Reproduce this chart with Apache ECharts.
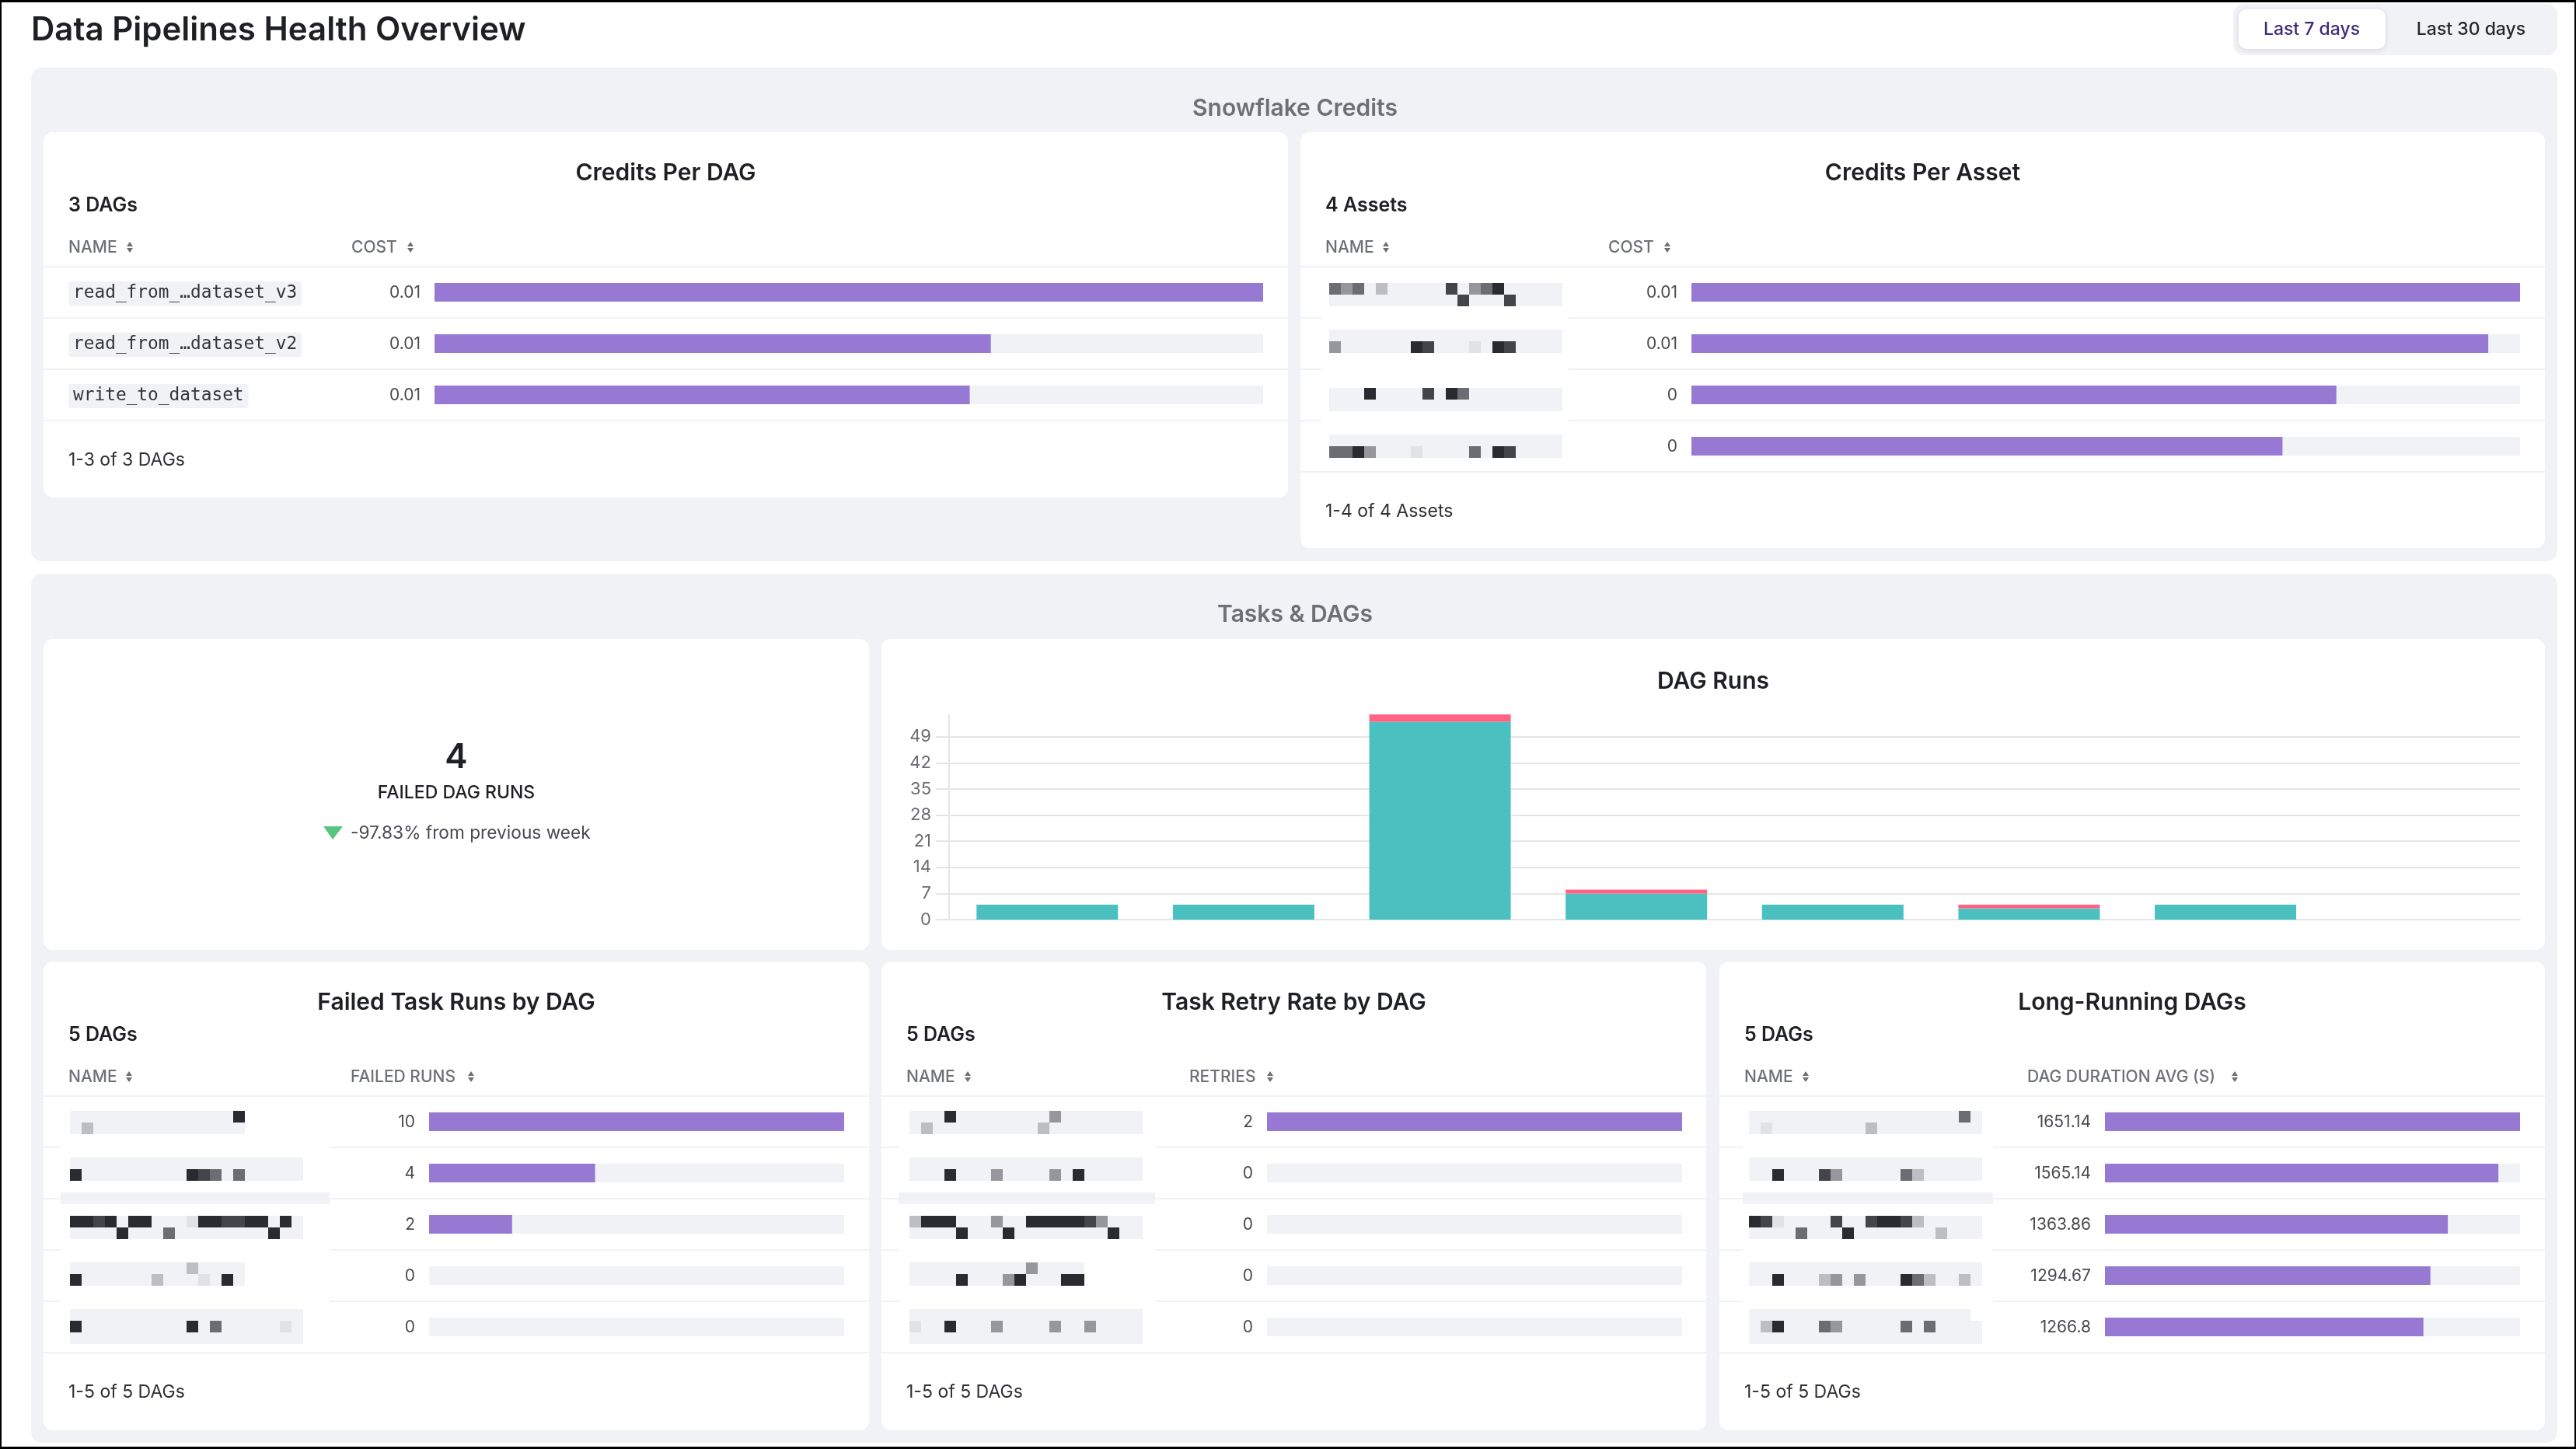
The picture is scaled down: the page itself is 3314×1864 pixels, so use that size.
<!DOCTYPE html>
<html>
<head>
<meta charset="utf-8">
<title>Data Pipelines Health Overview</title>
<script src="https://cdn.jsdelivr.net/npm/echarts@6/dist/echarts.min.js"></script>
<style>
    html, body { margin: 0; padding: 0; background: #fff; }
    #main { width: 3314px; height: 1864px; }
</style>
</head>
<body>
<div id="main"></div>
<script>
// values
const dagNames = ['read_from_…dataset_v3', 'read_from_…dataset_v2', 'write_to_dataset'];
const dagCosts = [0.0098, 0.00658, 0.00633];
const assetNames = ['asset_1', 'asset_2', 'asset_3', 'asset_4'];
const assetCosts = [0.006, 0.00577, 0.00467, 0.00428];

const runDays = ['day 1', 'day 2', 'day 3', 'day 4', 'day 5', 'day 6', 'day 7', 'day 8'];
const runSuccess = [4, 4, 53, 7, 4, 3, 4, 0];
const runFailed = [0, 0, 2, 1, 0, 1, 0, 0];

const hiddenDags = ['dag_1', 'dag_2', 'dag_3', 'dag_4', 'dag_5'];
const failedRuns = [10, 4, 2, 0, 0];
const retries = [2, 0, 0, 0, 0];
const durations = [1651.14, 1565.14, 1363.86, 1294.67, 1266.8];

// the blurred names, one string per line of blocks
const assetMosaic = [
    'mgm.l.....d.gmk.....', '...........d...d....', '', '',
    '....................', 'g......kd...p.kd....', '', '', '',
    '...k....d.km........', '....................', '', '',
    '....................', 'mmkg...p....m.kd....'
];
const failedMosaic = [
    '..............k', '.l.............', '', '',
    '....................', 'k.........kdm.m.....', '', '', '',
    'kkdk.kk...pkkddkk.k.', '....k...m........k..', '', '',
    '..........l....', 'k......l...p.k.', '', '',
    '....................', 'k.........k.m.....p.', '....................'
];
const retryMosaic = [
    '...k........g.......', '.l.........l........', '', '',
    '....................', '...k...g....g.k.....', '', '', '',
    'lkkk...g..kkkkkdg...', '....k...k........k..', '', '',
    '..........g....', '....k...gk...kk', '', '',
    '....................', 'p..k...g....g..g....', '....................'
];
const longMosaic = [
    '..................m.', '.p........l.........', '', '',
    '....................', '..k...dg.....ml.....', '', '', '',
    'kdp....d..dkkdl.....', '....m...k.......l...', '', '',
    '....................', '..k...lg.g...kml..l.', '', '',
    '...................', '.lk...mg.....m.m....', '....................'
];

const FONT = 'Inter';
const PURPLE = '#9779d4';
const LIGHT = '#f1f2f6';
const DARK = '#1f2024';
const GREY = '#6e7078';
const shades = { '.': LIGHT, k: '#2a2b30', d: '#44454b', m: '#6c6d73', g: '#96969c', l: '#bdbec3', p: '#e1e2e6' };

let graphics = [];
let titles = [];
let grids = [];
let xAxes = [];
let yAxes = [];
let series = [];

function box(x, y, w, h, fill, r, z, shadow) {
    let style = { fill: fill };
    if (shadow) {
        style.shadowBlur = 6;
        style.shadowColor = 'rgba(0,0,0,0.12)';
        style.shadowOffsetY = 1;
    }
    graphics.push({ type: 'rect', z: z || -10, silent: true, shape: { x: x, y: y, width: w, height: h, r: r || 0 }, style: style });
}

function label(text, x, y, size, weight, color, align) {
    graphics.push({
        type: 'text', z: 10, silent: true, x: x, y: y + 1,
        style: { text: text, fontFamily: FONT, fontSize: size, fontWeight: weight, fill: color, textAlign: align || 'left', textVerticalAlign: 'middle' }
    });
}

function sortIcon(x, y) {
    graphics.push({ type: 'polygon', z: 10, silent: true, shape: { points: [[x - 4, y - 1], [x + 4, y - 1], [x, y - 7]] }, style: { fill: GREY } });
    graphics.push({ type: 'polygon', z: 10, silent: true, shape: { points: [[x - 4, y + 1], [x + 4, y + 1], [x, y + 7]] }, style: { fill: GREY } });
}

function heading(text, x, y, size, color) {
    titles.push({ text: text, left: x, top: y - size / 2 + 1, padding: 0, textAlign: 'center', textStyle: { fontFamily: FONT, fontSize: size, fontWeight: 600, color: color || DARK } });
}

function drawMosaic(rows, x0, y0) {
    rows.forEach(function (row, gy) {
        row.split('').forEach(function (c, col) {
            box(x0 + col * 15, y0 + gy * 15, 15, 15, shades[c], 0, -5);
        });
    });
}

function addTable(t) {
    box(t.x, t.y, t.w, t.h, '#fff', 12, -8);
    heading(t.title, t.x + t.w / 2, t.y + 52, 30);
    let left = t.x + 32;
    label(t.count, left, t.y + 93, 25, 600, DARK);
    label('NAME', left, t.rowTop - 25, 21, 500, GREY);
    sortIcon(t.nameIcon, t.rowTop - 25);
    label(t.column, t.colX, t.rowTop - 25, 21, 500, GREY);
    sortIcon(t.colIcon, t.rowTop - 25);
    label(t.footer, left, t.rowTop + t.values.length * 66 + 50, 23, 400, '#2f3036');

    for (let i = 0; i <= t.values.length; i++) {
        box(t.x, t.rowTop + i * 66 - 1, t.w, 2, LIGHT, 0, -7);
    }
    // the blur on the names also hides the row lines under them
    if (t.mosaic) {
        for (let i = 1; i < t.values.length; i++) {
            box(t.cutX, t.rowTop + i * 66 - 2, t.cutW, 4, (t.values.length === 5 && i === 2) ? LIGHT : '#fff', 0, -6);
        }
        if (t.values.length === 5) {
            box(t.cutX, t.rowTop + 124, t.cutW, 15, LIGHT, 0, -6);
        }
        drawMosaic(t.mosaic, t.mosaicX, t.mosaicY);
    }

    let n = grids.length;
    grids.push({ left: t.barX, top: t.rowTop, width: t.barW, height: t.values.length * 66 });
    xAxes.push({ gridIndex: n, type: 'value', min: 0, max: t.values[0], show: false });
    yAxes.push({
        gridIndex: n, type: 'category', inverse: true, data: t.names,
        axisLine: { show: false }, axisTick: { show: false }, splitLine: { show: false },
        axisLabel: {
            show: !t.mosaic, align: 'left', margin: t.barX - left, padding: [3, 0, 0, 0],
            formatter: function (v) { return '{pill|' + v + '}'; },
            rich: { pill: { fontFamily: 'DejaVu Sans Mono', fontSize: 22.8, color: '#34353b', backgroundColor: LIGHT, borderRadius: 4, padding: [4, 6, 4, 6] } }
        }
    });
    series.push({
        name: t.title, type: 'bar', xAxisIndex: n, yAxisIndex: n, data: t.values,
        barWidth: 24, showBackground: true, backgroundStyle: { color: LIGHT },
        itemStyle: { color: PURPLE }, animation: false, silent: true,
        label: {
            show: true, position: 'left', distance: 18, offset: [0, 1], fontFamily: FONT, fontSize: 21, color: '#4a4b52',
            formatter: function (p) { return String(Math.round(p.value * 100) / 100); }
        }
    });
}

// page frame, header and toggle
label('Data Pipelines Health Overview', 40, 38, 42, 600, DARK);
box(2873, 5, 417, 66, LIGHT, 14);
box(2880, 12, 189, 51, '#fff', 10, -9, true);
label('Last 7 days', 2974, 37, 23, 500, '#3f2a78', 'center');
label('Last 30 days', 3179, 37, 23, 500, '#26272c', 'center');

// section panels
box(40, 87, 3250, 635, LIGHT, 14);
box(40, 738, 3250, 1118, LIGHT, 14);
heading('Snowflake Credits', 1666, 139, 30, GREY);
heading('Tasks & DAGs', 1666, 790, 30, GREY);

addTable({
    x: 56, y: 170, w: 1601, h: 470, title: 'Credits Per DAG', count: '3 DAGs', column: 'COST', footer: '1-3 of 3 DAGs',
    colX: 452, nameIcon: 167, colIcon: 528, rowTop: 343, barX: 559, barW: 1066, names: dagNames, values: dagCosts
});
addTable({
    x: 1673, y: 170, w: 1601, h: 535, title: 'Credits Per Asset', count: '4 Assets', column: 'COST', footer: '1-4 of 4 Assets',
    colX: 2069, nameIcon: 1783, colIcon: 2145, rowTop: 343, barX: 2176, barW: 1066, names: assetNames, values: assetCosts,
    mosaic: assetMosaic, mosaicX: 1710, mosaicY: 364, cutX: 1700, cutW: 318
});
addTable({
    x: 56, y: 1237, w: 1062, h: 603, title: 'Failed Task Runs by DAG', count: '5 DAGs', column: 'FAILED RUNS', footer: '1-5 of 5 DAGs',
    colX: 451, nameIcon: 166, colIcon: 606, rowTop: 1410, barX: 552, barW: 534, names: hiddenDags, values: failedRuns,
    mosaic: failedMosaic, mosaicX: 90, mosaicY: 1429, cutX: 78, cutW: 346
});
addTable({
    x: 1134, y: 1237, w: 1061, h: 603, title: 'Task Retry Rate by DAG', count: '5 DAGs', column: 'RETRIES', footer: '1-5 of 5 DAGs',
    colX: 1530, nameIcon: 1245, colIcon: 1634, rowTop: 1410, barX: 1630, barW: 534, names: hiddenDags, values: retries,
    mosaic: retryMosaic, mosaicX: 1170, mosaicY: 1429, cutX: 1156, cutW: 330
});
addTable({
    x: 2212, y: 1237, w: 1062, h: 603, title: 'Long-Running DAGs', count: '5 DAGs', column: 'DAG DURATION AVG (S)', footer: '1-5 of 5 DAGs',
    colX: 2608, nameIcon: 2323, colIcon: 2875, rowTop: 1410, barX: 2708, barW: 534, names: hiddenDags, values: durations,
    mosaic: longMosaic, mosaicX: 2250, mosaicY: 1429, cutX: 2242, cutW: 322
});

// failed runs number
box(56, 822, 1062, 400, '#fff', 12, -8);
label('4', 587, 974, 44, 600, DARK, 'center');
label('FAILED DAG RUNS', 587, 1019, 23, 500, DARK, 'center');
graphics.push({ type: 'polygon', z: 10, silent: true, shape: { points: [[416, 1063], [441, 1063], [428, 1080]] }, style: { fill: '#55c57f' } });
label('-97.83% from previous week', 451, 1071, 22.7, 400, '#4a4b52');

// DAG runs
box(1134, 822, 2140, 400, '#fff', 12, -8);
heading('DAG Runs', 2204, 876, 30);
let runGrid = grids.length;
grids.push({ left: 1221, top: 919, width: 2021, height: 264 });
xAxes.push({
    gridIndex: runGrid, type: 'category', data: runDays,
    axisLine: { lineStyle: { color: '#e5e5e5', width: 2 } }, axisTick: { show: false }, axisLabel: { show: false }
});
yAxes.push({
    gridIndex: runGrid, type: 'value', min: 0, max: 55, interval: 7,
    axisLine: { show: true, lineStyle: { color: '#e5e5e5', width: 2 } },
    axisTick: { show: true, length: 17, lineStyle: { color: '#e5e5e5', width: 2 } },
    axisLabel: { margin: 23, padding: [3, 0, 0, 0], fontFamily: FONT, fontSize: 22, color: '#6b6c72', showMaxLabel: false },
    splitLine: { show: true, showMaxLine: false, lineStyle: { color: '#e5e5e5', width: 2 } }
});
series.push({
    name: 'success', type: 'bar', stack: 'runs', xAxisIndex: runGrid, yAxisIndex: runGrid, data: runSuccess,
    barWidth: 182, itemStyle: { color: '#4bc0c0' }, animation: false, silent: true
});
series.push({
    name: 'failed', type: 'bar', stack: 'runs', xAxisIndex: runGrid, yAxisIndex: runGrid, data: runFailed,
    barWidth: 182, itemStyle: { color: '#ff6384' }, animation: false, silent: true
});

// black screenshot edge
box(0, 0, 3314, 3, '#000', 0, 20);
box(0, 0, 2, 1864, '#000', 0, 20);
box(0, 1861, 3314, 3, '#000', 0, 20);
box(3312, 0, 2, 1864, '#000', 0, 20);

let myChart = echarts.init(document.getElementById('main'));
myChart.setOption({
    animation: false,
    backgroundColor: '#fff',
    title: titles,
    grid: grids,
    xAxis: xAxes,
    yAxis: yAxes,
    series: series,
    graphic: { elements: graphics }
});
</script>
</body>
</html>
